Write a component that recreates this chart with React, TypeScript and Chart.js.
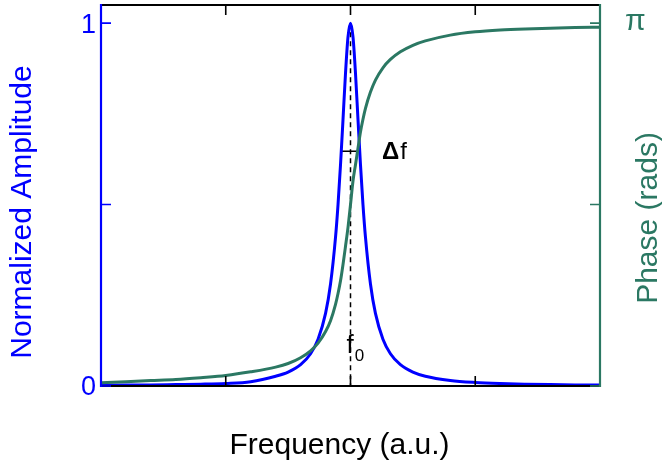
import React, { useEffect, useRef } from "react";
import { Chart, registerables } from "chart.js";

Chart.register(...registerables);

// Frequency (a.u.), resonance at f0 = 1
const freq = [0, 0.1, 0.2, 0.3, 0.4, 0.5, 0.6, 0.7, 0.75, 0.8, 0.84, 0.87, 0.9, 0.92, 0.94, 0.95, 0.96, 0.97, 0.98, 0.99, 1.0, 1.01, 1.02, 1.03, 1.04, 1.05, 1.06, 1.08, 1.1, 1.13, 1.16, 1.2, 1.25, 1.3, 1.4, 1.5, 1.6, 1.7, 1.8, 1.9, 2.0];
const amplitude = [0.002, 0.0025, 0.003, 0.004, 0.005, 0.007, 0.012, 0.027, 0.0385, 0.0588, 0.089, 0.129, 0.2, 0.281, 0.41, 0.5, 0.61, 0.735, 0.862, 0.962, 1.0, 0.962, 0.862, 0.735, 0.61, 0.5, 0.41, 0.281, 0.2, 0.129, 0.089, 0.0588, 0.0385, 0.027, 0.0154, 0.0099, 0.0069, 0.0051, 0.0039, 0.0031, 0.0025];
// Phase in units of pi rad
const phaseOverPi = [0.009, 0.012, 0.015, 0.018, 0.023, 0.029, 0.039, 0.052, 0.062, 0.078, 0.097, 0.118, 0.15, 0.18, 0.225, 0.255, 0.29, 0.335, 0.385, 0.437, 0.5, 0.565, 0.61, 0.655, 0.7, 0.735, 0.765, 0.81, 0.843, 0.877, 0.9, 0.921, 0.939, 0.951, 0.967, 0.976, 0.981, 0.984, 0.986, 0.988, 0.989];

const xTicks = [0.5, 1, 1.5];
const ampTicks = [0, 0.5, 1];
const ampTickLabels = ["0", "", "1"];
const phaseTicks = [0, 0.5, 1];
const phaseTickLabels = ["", "", "\u03c0"];

const f0 = 1;
const widthLevel = 0.647;
const widthLeft = 0.963;
const widthRight = 1.037;

const BLUE = "#0000ff";
const GREEN = "#2b7863";
const FONT = '"Liberation Sans", Arial, sans-serif';

const framePlugin = {
  id: "framePlugin",
  beforeDatasetsDraw(chart: any) {
    const { ctx, scales } = chart;
    const x = scales.x, y = scales.y;
    ctx.save();
    ctx.strokeStyle = "#000";
    ctx.lineWidth = 1.5;
    ctx.setLineDash([5, 4]);
    ctx.beginPath();
    ctx.moveTo(x.getPixelForValue(f0), y.getPixelForValue(1));
    ctx.lineTo(x.getPixelForValue(f0), y.getPixelForValue(0));
    ctx.stroke();
    ctx.setLineDash([]);
    ctx.beginPath();
    ctx.moveTo(x.getPixelForValue(widthLeft), y.getPixelForValue(widthLevel));
    ctx.lineTo(x.getPixelForValue(widthRight), y.getPixelForValue(widthLevel));
    ctx.stroke();
    ctx.restore();
  },
  afterDraw(chart: any) {
    const { ctx, chartArea, scales } = chart;
    const { left, right, top, bottom } = chartArea;
    const x = scales.x, y = scales.y, y2 = scales.y2;
    const tl = 10;
    ctx.save();
    ctx.lineCap = "butt";
    ctx.lineWidth = 2.2;
    ctx.strokeStyle = "#000";
    ctx.beginPath();
    ctx.moveTo(left, top); ctx.lineTo(right, top);
    ctx.moveTo(left, bottom); ctx.lineTo(right, bottom);
    ctx.stroke();
    ctx.lineWidth = 1.6;
    ctx.beginPath();
    xTicks.forEach((v) => {
      const px = x.getPixelForValue(v);
      ctx.moveTo(px, bottom); ctx.lineTo(px, bottom - tl);
      ctx.moveTo(px, top); ctx.lineTo(px, top + tl);
    });
    ctx.stroke();
    ctx.strokeStyle = BLUE;
    ctx.lineWidth = 2.2;
    ctx.beginPath();
    ctx.moveTo(left, top - 1); ctx.lineTo(left, bottom + 1);
    ctx.stroke();
    ctx.lineWidth = 1.6;
    ctx.beginPath();
    ampTicks.forEach((v) => {
      const py = y.getPixelForValue(v);
      ctx.moveTo(left, py); ctx.lineTo(left + tl, py);
    });
    ctx.stroke();
    ctx.strokeStyle = GREEN;
    ctx.lineWidth = 2.2;
    ctx.beginPath();
    ctx.moveTo(right, top - 1); ctx.lineTo(right, bottom + 1);
    ctx.stroke();
    ctx.lineWidth = 1.6;
    ctx.beginPath();
    phaseTicks.forEach((v) => {
      const py = y2.getPixelForValue(v);
      ctx.moveTo(right, py); ctx.lineTo(right - tl, py);
    });
    ctx.stroke();

    ctx.textBaseline = "middle";
    ctx.fillStyle = BLUE;
    ctx.font = `27px ${FONT}`;
    ctx.textAlign = "right";
    ampTicks.forEach((v, i) => {
      if (ampTickLabels[i]) ctx.fillText(ampTickLabels[i], left - 5, y.getPixelForValue(v) + 2);
    });
    ctx.fillStyle = GREEN;
    ctx.font = `30px ${FONT}`;
    ctx.textAlign = "left";
    phaseTicks.forEach((v, i) => {
      if (phaseTickLabels[i]) ctx.fillText(phaseTickLabels[i], right + 25, y2.getPixelForValue(v) - 1);
    });

    ctx.font = `30px ${FONT}`;
    ctx.textAlign = "center";
    ctx.textBaseline = "alphabetic";
    ctx.fillStyle = "#000";
    ctx.fillText("Frequency (a.u.)", (left + right) / 2 - 11, 454);

    ctx.save();
    ctx.translate(31, 212);
    ctx.rotate(-Math.PI / 2);
    ctx.fillStyle = BLUE;
    ctx.fillText("Normalized Amplitude", 0, 0);
    ctx.restore();

    ctx.save();
    ctx.translate(657, 218);
    ctx.rotate(-Math.PI / 2);
    ctx.fillStyle = GREEN;
    ctx.fillText("Phase (rads)", 0, 0);
    ctx.restore();

    ctx.fillStyle = "#000";
    ctx.textAlign = "left";
    ctx.font = `bold 24px ${FONT}`;
    const dx = x.getPixelForValue(1.126);
    const dy = y.getPixelForValue(widthLevel) + 8;
    ctx.fillText("\u0394", dx, dy);
    const dw = ctx.measureText("\u0394").width;
    ctx.font = `24px ${FONT}`;
    ctx.fillText("f", dx + dw + 1, dy);

    const fx = x.getPixelForValue(f0) - 4;
    const fy = y.getPixelForValue(0.09);
    ctx.font = `26px ${FONT}`;
    ctx.fillText("f", fx, fy);
    const fw = ctx.measureText("f").width;
    ctx.font = `17px ${FONT}`;
    ctx.fillText("0", fx + fw + 1, fy + 8);
    ctx.restore();
  },
};

export default function App() {
  const canvasRef = useRef<HTMLCanvasElement | null>(null);

  useEffect(() => {
    document.body.style.margin = "0";
    const canvas = canvasRef.current;
    if (!canvas) return;
    const chart = new Chart(canvas, {
      type: "line",
      data: {
        datasets: [
          {
            label: "Normalized Amplitude",
            data: freq.map((f, i) => ({ x: f, y: amplitude[i] })),
            yAxisID: "y",
            borderColor: BLUE,
            borderWidth: 3,
            pointRadius: 0,
            fill: false,
            cubicInterpolationMode: "monotone",
            order: 2,
          },
          {
            label: "Phase (rads)",
            data: freq.map((f, i) => ({ x: f, y: phaseOverPi[i] })),
            yAxisID: "y2",
            borderColor: GREEN,
            borderWidth: 3,
            pointRadius: 0,
            fill: false,
            cubicInterpolationMode: "monotone",
            order: 1,
          },
        ],
      },
      options: {
        animation: false,
        responsive: true,
        maintainAspectRatio: false,
        layout: { padding: { left: 101, right: 62, top: 5, bottom: 79 } },
        plugins: { legend: { display: false }, tooltip: { enabled: false } },
        scales: {
          x: { type: "linear", min: 0, max: 2, display: false },
          y: { type: "linear", min: 0, max: 1.05, display: false },
          y2: { type: "linear", position: "right", min: 0, max: 1.05, display: false },
        },
      },
      plugins: [framePlugin],
    } as any);
    return () => chart.destroy();
  }, []);

  return (
    <div style={{ position: "relative", width: 662, height: 465 }}>
      <canvas ref={canvasRef} />
    </div>
  );
}
